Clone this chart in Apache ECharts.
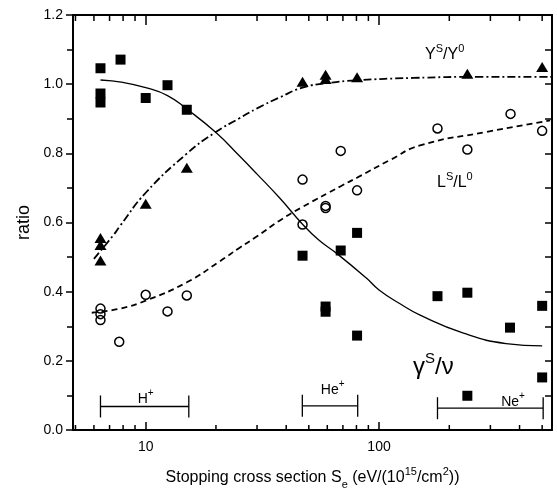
<!DOCTYPE html>
<html><head><meta charset="utf-8">
<script src="https://cdn.jsdelivr.net/npm/echarts@6/dist/echarts.min.js"></script>
<style>html,body{margin:0;padding:0;background:#fff}#c{width:557px;height:495px}</style>
</head><body><div id="c"></div>
<script>
// ---- data ----
// γ^S/ν (filled squares)
const gammaX = [6.4, 6.4, 6.4, 7.8, 10, 12.4, 15, 47, 59, 59, 68.5, 80.5, 80.5, 178, 239, 239, 364, 500, 500];
const gammaY = [1.046, 0.973, 0.947, 1.071, 0.96, 0.997, 0.926, 0.504, 0.357, 0.342, 0.519, 0.570, 0.273, 0.387, 0.397, 0.099, 0.296, 0.359, 0.152];
// Y^S/Y^0 (filled triangles)
const yieldX = [6.4, 6.4, 6.4, 10, 15, 47, 59, 59, 80.5, 239, 500];
const yieldY = [0.555, 0.535, 0.49, 0.654, 0.758, 1.007, 1.027, 1.015, 1.02, 1.03, 1.05];
// L^S/L^0 (open circles)
const lossX = [6.4, 6.4, 6.4, 7.7, 10, 12.4, 15, 47, 47, 59, 59, 68.5, 80.5, 178, 239, 366, 500];
const lossY = [0.351, 0.335, 0.318, 0.255, 0.391, 0.343, 0.389, 0.724, 0.594, 0.648, 0.642, 0.807, 0.693, 0.872, 0.811, 0.914, 0.865];
// fitted curves
const gammaCurveX = [6.4, 8, 10, 12.4, 15, 20, 25, 30, 37.6, 47, 55, 66, 88, 100, 123, 150, 230, 350, 500];
const gammaCurveY = [1.012, 1.005, 0.99, 0.967, 0.928, 0.86, 0.795, 0.74, 0.67, 0.595, 0.55, 0.51, 0.44, 0.405, 0.365, 0.332, 0.28, 0.25, 0.243];
const yieldCurveX = [6.0, 7.26, 7.76, 10, 15, 19.8, 25, 30, 37.6, 47, 60, 80, 140, 270, 551];
const yieldCurveY = [0.495, 0.563, 0.59, 0.686, 0.799, 0.86, 0.9, 0.93, 0.962, 0.99, 1.003, 1.011, 1.018, 1.021, 1.021];
const lossCurveX = [5.87, 7.76, 10, 15, 20.8, 25, 30, 37.6, 47, 68.5, 80.7, 111, 150, 290, 541];
const lossCurveY = [0.339, 0.351, 0.374, 0.427, 0.488, 0.525, 0.56, 0.606, 0.645, 0.705, 0.73, 0.78, 0.823, 0.862, 0.895];
// ion ranges: start, end, level
const ionNames = ['H', 'He', 'Ne'];
const ionStart = [6.4, 46.9, 178];
const ionEnd = [15.3, 81, 505];
const ionLevel = [0.068, 0.070, 0.063];
const ionLabelX = [10, 63.3, 375];
const ionLabelY = [0.09, 0.115, 0.08];
// axes
const xMin = 4.88, xMax = 551;
const xTickLabels = [10, 100];
const xMinorTicks = [5, 6, 7, 8, 9, 20, 30, 40, 50, 60, 70, 80, 90, 200, 300, 400, 500];
const yMin = 0, yMax = 1.2, yStep = 0.2;

const zip = (a, b) => a.map((v, i) => [v, b[i]]);
const FF = 'Liberation Sans, Arial, sans-serif';
const chart = echarts.init(document.getElementById('c'), null, {renderer: 'canvas'});

const supRich = (base, sup) => ({
  b: {fontSize: base, fontFamily: FF, color: '#000', lineHeight: base + 8, verticalAlign: 'middle'},
  s: {fontSize: sup, fontFamily: FF, color: '#000', lineHeight: base + 8, verticalAlign: 'top'},
  d: {fontSize: sup, fontFamily: FF, color: '#000', lineHeight: base + 8, verticalAlign: 'bottom'}
});

const option = {
  animation: false,
  backgroundColor: '#fff',
  grid: {left: 73, right: 5, top: 15, bottom: 56, containLabel: false},
  xAxis: [{
    type: 'log', min: xMin, max: xMax, position: 'bottom',
    axisLine: {show: true, onZero: false, lineStyle: {color: '#000', width: 2}},
    axisTick: {show: true, inside: true, length: 8, lineStyle: {color: '#000', width: 1.5}},
    axisLabel: {
      color: '#000', fontSize: 14, fontFamily: FF, margin: 10,
      formatter: v => { const m = xTickLabels.find(t => Math.abs(t - v) / t < 1e-6); return m ? String(m) : ''; }
    },
    splitLine: {show: false},
    name: '{b|Stopping cross section S}{d|e}{b| (eV/(10}{s|15}{b|/cm}{s|2}{b|))}',
    nameLocation: 'middle', nameGap: 36,
    nameTextStyle: {rich: supRich(16, 11)}
  }, {
    type: 'log', min: xMin, max: xMax, position: 'top',
    axisLine: {show: true, onZero: false, lineStyle: {color: '#000', width: 2}},
    axisTick: {show: true, inside: true, length: 10, lineStyle: {color: '#000', width: 1.5}},
    axisLabel: {show: false}, splitLine: {show: false}
  }],
  yAxis: [{
    type: 'value', min: yMin, max: yMax, interval: yStep, position: 'left',
    axisLine: {show: true, onZero: false, lineStyle: {color: '#000', width: 2}},
    axisTick: {show: true, inside: false, length: 7, lineStyle: {color: '#000', width: 1.5}},
    minorTick: {show: true, splitNumber: 2, length: 6, lineStyle: {color: '#000', width: 1.5}},
    axisLabel: {color: '#000', fontSize: 14, fontFamily: FF, margin: 10, formatter: v => v.toFixed(1)},
    splitLine: {show: false},
    name: 'ratio', nameLocation: 'middle', nameGap: 34,
    nameTextStyle: {color: '#000', fontSize: 18, fontFamily: FF}
  }, {
    type: 'value', min: yMin, max: yMax, interval: yStep / 2, position: 'right',
    axisLine: {show: true, onZero: false, lineStyle: {color: '#000', width: 2}},
    axisTick: {show: true, inside: true, length: 7, lineStyle: {color: '#000', width: 1.5}},
    axisLabel: {show: false}, splitLine: {show: false}
  }],
  series: [
    {type: 'line', data: zip(gammaCurveX, gammaCurveY), smooth: 0.5, showSymbol: false,
     lineStyle: {color: '#000', width: 1.3}, z: 2},
    {type: 'line', data: zip(yieldCurveX, yieldCurveY), smooth: 0.5, showSymbol: false,
     lineStyle: {color: '#000', width: 1.8, type: [8, 3, 2, 3]}, z: 2},
    {type: 'line', data: zip(lossCurveX, lossCurveY), smooth: 0.5, showSymbol: false,
     lineStyle: {color: '#000', width: 1.8, type: [6, 4]}, z: 2},
    {type: 'scatter', data: zip(gammaX, gammaY), symbol: 'rect', symbolSize: 10,
     itemStyle: {color: '#000', opacity: 1}, z: 3},
    {type: 'scatter', data: zip(yieldX, yieldY), symbol: 'triangle', symbolSize: [12, 10],
     itemStyle: {color: '#000', opacity: 1}, z: 3},
    {type: 'scatter', data: zip(lossX, lossY), symbol: 'circle', symbolSize: 9,
     itemStyle: {color: 'rgba(0,0,0,0)', borderColor: '#000', borderWidth: 1.5, opacity: 1}, z: 3},
    {type: 'custom', data: xMinorTicks.map(v => [v, 0]), silent: true, clip: false, z: 4,
     renderItem: (params, api) => {
       const x = api.value(0);
       const b = api.coord([x, yMin]);
       const t = api.coord([x, yMax]);
       return {type: 'group', children: [
         {type: 'line', shape: {x1: b[0], y1: b[1], x2: b[0], y2: b[1] - 5}, style: {stroke: '#000', lineWidth: 1.5}},
         {type: 'line', shape: {x1: t[0], y1: t[1], x2: t[0], y2: t[1] + 6}, style: {stroke: '#000', lineWidth: 1.5}}
       ]};
     }},
    {type: 'custom', data: ionNames.map((n, i) => [ionStart[i], ionLevel[i], ionEnd[i], ionLabelX[i], ionLabelY[i], i]),
     silent: true, clip: false, z: 4,
     renderItem: (params, api) => {
       const a = api.coord([api.value(0), api.value(1)]);
       const e = api.coord([api.value(2), api.value(1)]);
       const l = api.coord([api.value(3), api.value(4)]);
       const name = ionNames[api.value(5)];
       const st = {stroke: '#000', lineWidth: 1.3};
       return {type: 'group', children: [
         {type: 'line', shape: {x1: a[0], y1: a[1], x2: e[0], y2: e[1]}, style: st},
         {type: 'line', shape: {x1: a[0], y1: a[1] - 11, x2: a[0], y2: a[1] + 11}, style: st},
         {type: 'line', shape: {x1: e[0], y1: e[1] - 11, x2: e[0], y2: e[1] + 11}, style: st},
         {type: 'text', x: l[0], y: l[1], style: {
           text: '{b|' + name + '}{s|+}', rich: supRich(14, 10),
           align: 'center', verticalAlign: 'middle', textAlign: 'center', textVerticalAlign: 'middle'}}
       ]};
     }}
  ],
  graphic: [
    {type: 'text', left: 425, top: 43, style: {text: '{b|Y}{s|S}{b|/Y}{s|0}', rich: supRich(16, 11)}},
    {type: 'text', left: 437, top: 171, style: {text: '{b|L}{s|S}{b|/L}{s|0}', rich: supRich(16, 11)}},
    {type: 'text', left: 413, top: 351, style: {text: '{b|γ}{s|S}{b|/ν}', rich: supRich(24, 15)}}
  ]
};
chart.setOption(option);
</script>
</body></html>
